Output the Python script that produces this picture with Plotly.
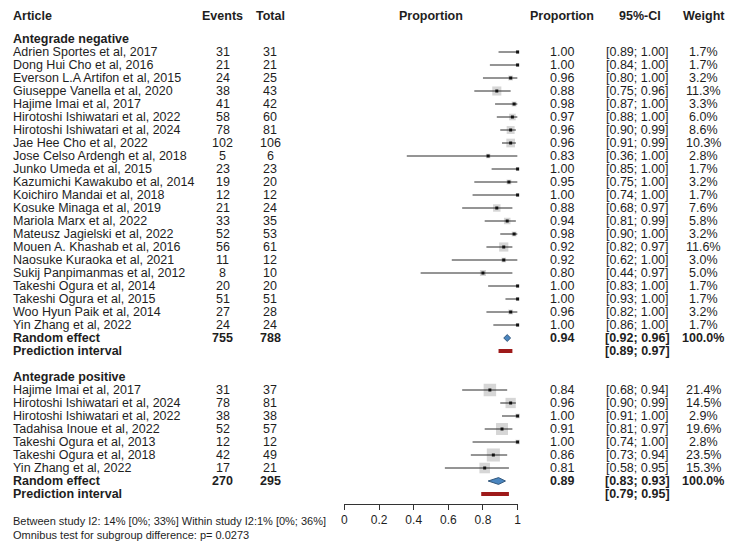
import plotly.graph_objects as go

# ---------------- data ----------------
neg_names = ["Adrien Sportes et al, 2017", "Dong Hui Cho et al, 2016", "Everson L.A Artifon et al, 2015",
             "Giuseppe Vanella et al, 2020", "Hajime Imai et al, 2017", "Hirotoshi Ishiwatari et al, 2022",
             "Hirotoshi Ishiwatari et al, 2024", "Jae Hee Cho et al, 2022", "Jose Celso Ardengh et al, 2018",
             "Junko Umeda et al, 2015", "Kazumichi Kawakubo et al, 2014", "Koichiro Mandai et al, 2018",
             "Kosuke Minaga et al, 2019", "Mariola Marx et al, 2022", "Mateusz Jagielski et al, 2022",
             "Mouen A. Khashab et al, 2016", "Naosuke Kuraoka et al, 2021", "Sukij Panpimanmas et al, 2012",
             "Takeshi Ogura et al, 2014", "Takeshi Ogura et al, 2015", "Woo Hyun Paik et al, 2014",
             "Yin Zhang et al, 2022"]
neg_events = [31, 21, 24, 38, 41, 58, 78, 102, 5, 23, 19, 12, 21, 33, 52, 56, 11, 8, 20, 51, 27, 24]
neg_total = [31, 21, 25, 43, 42, 60, 81, 106, 6, 23, 20, 12, 24, 35, 53, 61, 12, 10, 20, 51, 28, 24]
neg_prop = [1.00, 1.00, 0.96, 0.88, 0.98, 0.97, 0.96, 0.96, 0.83, 1.00, 0.95, 1.00, 0.88, 0.94, 0.98,
            0.92, 0.92, 0.80, 1.00, 1.00, 0.96, 1.00]
neg_lo = [0.89, 0.84, 0.80, 0.75, 0.87, 0.88, 0.90, 0.91, 0.36, 0.85, 0.75, 0.74, 0.68, 0.81, 0.90,
          0.82, 0.62, 0.44, 0.83, 0.93, 0.82, 0.86]
neg_hi = [1.00, 1.00, 1.00, 0.96, 1.00, 1.00, 0.99, 0.99, 1.00, 1.00, 1.00, 1.00, 0.97, 0.99, 1.00,
          0.97, 1.00, 0.97, 1.00, 1.00, 1.00, 1.00]
neg_weight = [1.7, 1.7, 3.2, 11.3, 3.3, 6.0, 8.6, 10.3, 2.8, 1.7, 3.2, 1.7, 7.6, 5.8, 3.2, 11.6, 3.0,
              5.0, 1.7, 1.7, 3.2, 1.7]
neg_re = dict(events=755, total=788, prop=0.94, lo=0.92, hi=0.96, pi_lo=0.89, pi_hi=0.97)

pos_names = ["Hajime Imai et al, 2017", "Hirotoshi Ishiwatari et al, 2024", "Hirotoshi Ishiwatari et al, 2022",
             "Tadahisa Inoue et al, 2022", "Takeshi Ogura et al, 2013", "Takeshi Ogura et al, 2018",
             "Yin Zhang et al, 2022"]
pos_events = [31, 78, 38, 52, 12, 42, 17]
pos_total = [37, 81, 38, 57, 12, 49, 21]
pos_prop = [0.84, 0.96, 1.00, 0.91, 1.00, 0.86, 0.81]
pos_lo = [0.68, 0.90, 0.91, 0.81, 0.74, 0.73, 0.58]
pos_hi = [0.94, 0.99, 1.00, 0.97, 1.00, 0.94, 0.95]
pos_weight = [21.4, 14.5, 2.9, 19.6, 2.8, 23.5, 15.3]
pos_re = dict(events=270, total=295, prop=0.89, lo=0.83, hi=0.93, pi_lo=0.79, pi_hi=0.95)

tick_vals = [0, 0.2, 0.4, 0.6, 0.8, 1]
tick_text = ["0", "0.2", "0.4", "0.6", "0.8", "1"]

footer = ["Between study I2: 14% [0%; 33%] Within study I2:1% [0%; 36%]",
          "Omnibus test for subgroup difference: p= 0.0273"]

# ---------------- layout helpers ----------------
# the page body adds an 8px margin, so the figure is sized to the visible area
OX, OY = 8, 8
W, H = 736 - OX, 545 - OY
ROW = 13.0
FONT = "Liberation Sans, Arial, sans-serif"
FS = 12.5
TXT = "#1e1e1e"


def row_y(px):
    """screen pixel y -> row coordinate"""
    return px / ROW - 1


def paper_x(px):
    return max(0.0, (px - OX) / W)


groups = [
    ("Antegrade negative", 2, neg_names, neg_events, neg_total, neg_prop, neg_lo, neg_hi, neg_weight, neg_re),
    ("Antegrade positive", 28, pos_names, pos_events, pos_total, pos_prop, pos_lo, pos_hi, pos_weight, pos_re),
]

fig = go.Figure()
ann = []


def add_text(xpx, y, text, anchor="center", bold=False, size=FS):
    ann.append(dict(x=paper_x(xpx), xref="paper", y=y, yref="y",
                    text=("<b>%s</b>" % text) if bold else text,
                    showarrow=False, xanchor=anchor, yanchor="middle",
                    font=dict(family=FONT, size=size, color=TXT)))


# headers (kept just inside the top edge)
hy = row_y(16)
add_text(6, hy, "Article", "left", True)
add_text(222, hy, "Events", bold=True)
add_text(270, hy, "Total", bold=True)
add_text(432, hy, "Proportion", bold=True)
add_text(564, hy, "Proportion", bold=True)
add_text(643, hy, "95%-CI", bold=True)
add_text(708, hy, "Weight", bold=True)

ci_x, ci_y = [], []
sq_x, sq_y, sq_s = [], [], []

for (gname, grow, names, ev, tot, prop, lo, hi, wt, re) in groups:
    add_text(6, grow, gname, "left", True)
    for i, nm in enumerate(names):
        r = grow + 1 + i
        add_text(6, r, nm, "left")
        add_text(222, r, str(ev[i]))
        add_text(270, r, str(tot[i]))
        add_text(564, r, "%.2f" % prop[i])
        add_text(641, r, "[%.2f; %.2f]" % (lo[i], hi[i]))
        add_text(707, r, "%.1f%%" % wt[i])
        ci_x += [lo[i], hi[i], None]
        ci_y += [r, r, None]
        sq_x.append(prop[i]); sq_y.append(r); sq_s.append(2.7 * wt[i] ** 0.5)
    rr = grow + 1 + len(names)
    add_text(6, rr, "Random effect", "left", True)
    add_text(222, rr, str(re["events"]), bold=True)
    add_text(270, rr, str(re["total"]), bold=True)
    add_text(564, rr, "%.2f" % re["prop"], bold=True)
    add_text(641, rr, "[%.2f; %.2f]" % (re["lo"], re["hi"]), bold=True)
    add_text(707, rr, "100.0%", bold=True)
    add_text(6, rr + 1, "Prediction interval", "left", True)
    add_text(641, rr + 1, "[%.2f; %.2f]" % (re["pi_lo"], re["pi_hi"]), bold=True)
    # diamond
    h = 0.26
    fig.add_trace(go.Scatter(x=[re["lo"], re["prop"], re["hi"], re["prop"], re["lo"]],
                             y=[rr, rr - h, rr, rr + h, rr], mode="lines", fill="toself",
                             fillcolor="#4a86c0", line=dict(color="#35597d", width=1),
                             cliponaxis=False, hoverinfo="skip"))
    # prediction interval bar
    fig.add_trace(go.Scatter(x=[re["pi_lo"], re["pi_hi"]], y=[rr + 1, rr + 1], mode="lines",
                             line=dict(color="#9e1a1a", width=4), cliponaxis=False, hoverinfo="skip"))

# study boxes
fig.add_trace(go.Scatter(x=sq_x, y=sq_y, mode="markers",
                         marker=dict(symbol="square", size=sq_s, color="#c4c4c4", line=dict(width=0)),
                         cliponaxis=False, hoverinfo="skip"))
# CI lines
fig.add_trace(go.Scatter(x=ci_x, y=ci_y, mode="lines", line=dict(color="#2b2b2b", width=1),
                         cliponaxis=False, hoverinfo="skip"))
# point estimates
fig.add_trace(go.Scatter(x=sq_x, y=sq_y, mode="markers",
                         marker=dict(symbol="square", size=3, color="#111111"),
                         cliponaxis=False, hoverinfo="skip"))

for k, t in enumerate(footer):
    add_text(6, row_y(521 + 14 * k), t, "left", size=11)

fig.update_layout(
    width=W, height=H, margin=dict(l=0, r=0, t=0, b=0),
    paper_bgcolor="white", plot_bgcolor="white", showlegend=False,
    annotations=ann,
    xaxis=dict(domain=[(344.7 - OX) / W, (519.5 - OX) / W], range=[0, 1], anchor="free",
               position=1 - (504 - OY) / H,
               showline=True, linecolor="#333", linewidth=1, ticks="outside", ticklen=5,
               tickcolor="#333", tickvals=tick_vals, ticktext=tick_text, showgrid=False,
               zeroline=False, tickfont=dict(family=FONT, size=12, color=TXT)),
    yaxis=dict(domain=[0, 1], range=[row_y(545), row_y(OY)], visible=False),
)

fig.write_html("out.html")
